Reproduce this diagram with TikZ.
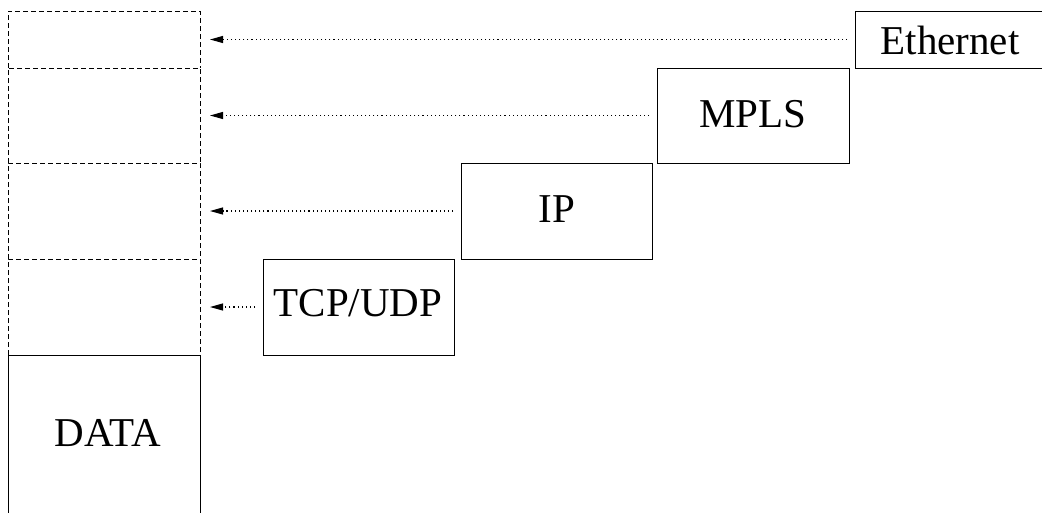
\documentclass[tikz,border=0pt]{standalone}
\usepackage{fontspec}
\setmainfont{Liberation Serif}
\usetikzlibrary{arrows.meta}
\begin{document}
\begin{tikzpicture}[x=1pt,y=-1pt,
  every node/.style={inner sep=0pt, outer sep=0pt, anchor=north west,
    font=\fontsize{41}{48}\selectfont},
  hdr/.style={draw, line width=1pt, rectangle},
  slot/.style={rectangle, minimum width=192pt},
  slotline/.style={line width=1pt, dash pattern=on 5pt off 3pt},
  conn/.style={line width=1.1pt, dash pattern=on 1.1pt off 3pt,
    -{Triangle[length=13pt,width=7pt]}, shorten <=8pt, shorten >=10pt}]
\useasboundingbox (0,0) rectangle (1042,512);
\clip (0,0) rectangle (1042,512);

% packet stack: empty header slots above the data
\node[slot, minimum height=57pt] (s1) at (8,11) {};
\node[slot, minimum height=95pt] (s2) at (8,68) {};
\node[slot, minimum height=96pt] (s3) at (8,163) {};
\node[slot, minimum height=96pt] (s4) at (8,259) {};
\foreach \s in {s1,s2,s3,s4}
  \draw[slotline] (\s.south west) -- (\s.north west) -- (\s.north east) -- (\s.south east);
\node[hdr, minimum width=192pt, minimum height=200pt] (data) at (8,355) {};
\node[anchor=center] at (108,433) {DATA};

% protocol headers
\node[hdr, minimum width=200pt, minimum height=57pt] (eth) at (855,11) {};
\node[anchor=center] at (950,40) {Ethernet};
\node[hdr, minimum width=192pt, minimum height=95pt] (mpls) at (657,68) {};
\node[anchor=center] at (753,114) {MPLS};
\node[hdr, minimum width=191pt, minimum height=96pt] (ip) at (461,163) {};
\node[anchor=center] at (557,209) {IP};
\node[hdr, minimum width=191pt, minimum height=96pt] (tcp) at (263,259) {};
\node[anchor=center] at (358,303) {TCP/UDP};

% headers mapped into the stack
\draw[conn] (eth.west) -- (s1.east);
\draw[conn] (mpls.west) -- (s2.east);
\draw[conn] (ip.west) -- (s3.east);
\draw[conn] (tcp.west) -- (s4.east);
\end{tikzpicture}
\end{document}
